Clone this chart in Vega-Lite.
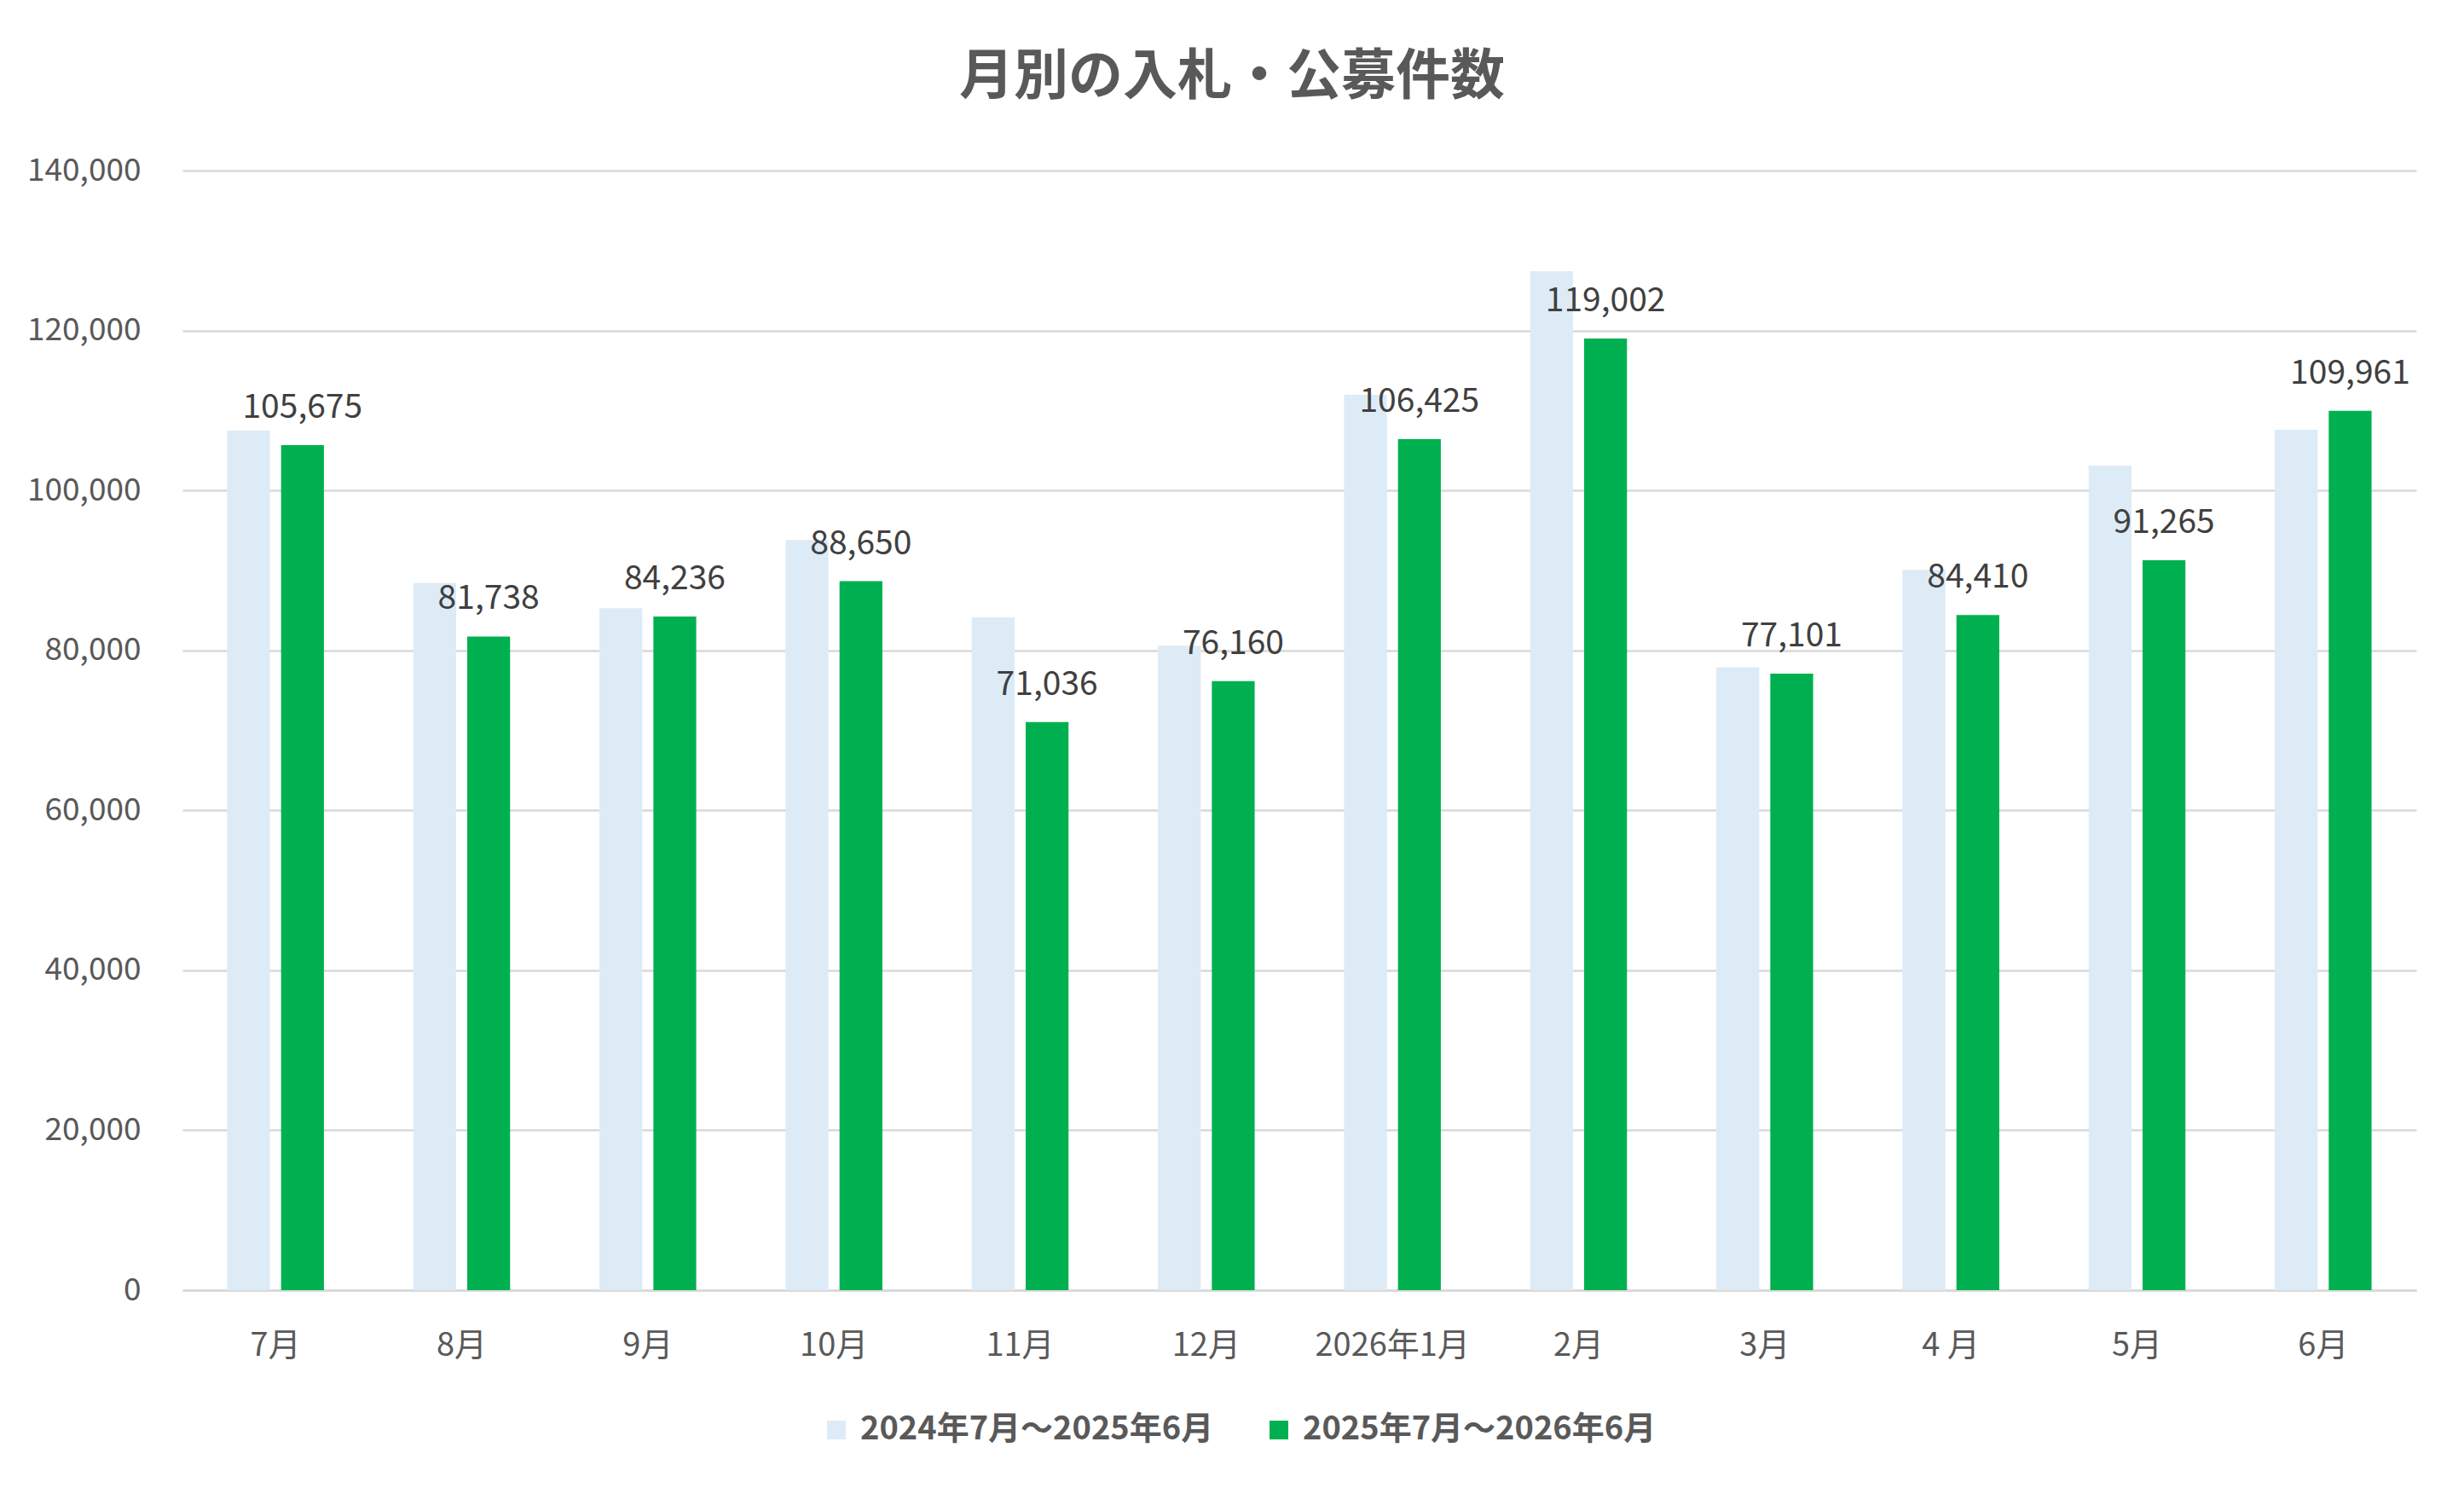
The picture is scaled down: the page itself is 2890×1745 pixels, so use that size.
{
  "$schema": "https://vega.github.io/schema/vega-lite/v6.json",
  "width": 2620,
  "height": 1313,
  "autosize": {"type": "none"},
  "padding": {"left": 214, "top": 200, "right": 56, "bottom": 232},
  "background": "white",
  "title": {
    "text": "月別の入札・公募件数",
    "font": "Noto Sans CJK JP",
    "fontSize": 64,
    "fontWeight": "bold",
    "color": "#595959",
    "anchor": "middle",
    "dx": -79,
    "offset": 58
  },
  "data": {
    "values": [
      {"月": "7月", "期間": "2024年7月～2025年6月", "件数": 107470},
      {"月": "8月", "期間": "2024年7月～2025年6月", "件数": 88410},
      {"月": "9月", "期間": "2024年7月～2025年6月", "件数": 85270},
      {"月": "10月", "期間": "2024年7月～2025年6月", "件数": 93800},
      {"月": "11月", "期間": "2024年7月～2025年6月", "件数": 84120},
      {"月": "12月", "期間": "2024年7月～2025年6月", "件数": 80570},
      {"月": "2026年1月", "期間": "2024年7月～2025年6月", "件数": 111960},
      {"月": "2月", "期間": "2024年7月～2025年6月", "件数": 127430},
      {"月": "3月", "期間": "2024年7月～2025年6月", "件数": 77880},
      {"月": "4 月", "期間": "2024年7月～2025年6月", "件数": 90080},
      {"月": "5月", "期間": "2024年7月～2025年6月", "件数": 103100},
      {"月": "6月", "期間": "2024年7月～2025年6月", "件数": 107590},
      {"月": "7月", "期間": "2025年7月～2026年6月", "件数": 105675},
      {"月": "8月", "期間": "2025年7月～2026年6月", "件数": 81738},
      {"月": "9月", "期間": "2025年7月～2026年6月", "件数": 84236},
      {"月": "10月", "期間": "2025年7月～2026年6月", "件数": 88650},
      {"月": "11月", "期間": "2025年7月～2026年6月", "件数": 71036},
      {"月": "12月", "期間": "2025年7月～2026年6月", "件数": 76160},
      {"月": "2026年1月", "期間": "2025年7月～2026年6月", "件数": 106425},
      {"月": "2月", "期間": "2025年7月～2026年6月", "件数": 119002},
      {"月": "3月", "期間": "2025年7月～2026年6月", "件数": 77101},
      {"月": "4 月", "期間": "2025年7月～2026年6月", "件数": 84410},
      {"月": "5月", "期間": "2025年7月～2026年6月", "件数": 91265},
      {"月": "6月", "期間": "2025年7月～2026年6月", "件数": 109961}
    ]
  },
  "encoding": {
    "x": {
      "field": "月",
      "type": "nominal",
      "sort": null,
      "title": null,
      "scale": {"paddingInner": 0.48, "paddingOuter": 0.24},
      "axis": {
        "labelAngle": 0,
        "labelFontSize": 38,
        "labelColor": "#595959",
        "labelPadding": 46,
        "labelLimit": 400,
        "labelOverlap": false,
        "ticks": false,
        "domainColor": "#D9D9D9",
        "domainWidth": 2.5
      }
    },
    "xOffset": {
      "field": "期間",
      "type": "nominal",
      "scale": {
        "domain": ["2024年7月～2025年6月", "2025年7月～2026年6月"],
        "paddingInner": 0.206,
        "paddingOuter": 0
      }
    },
    "y": {
      "field": "件数",
      "type": "quantitative",
      "title": null,
      "scale": {"domain": [0, 140000], "nice": false},
      "axis": {
        "values": [0, 20000, 40000, 60000, 80000, 100000, 120000, 140000],
        "format": ",d",
        "labelFontSize": 37,
        "labelColor": "#595959",
        "labelPadding": 49,
        "ticks": false,
        "domain": false,
        "gridColor": "#D9D9D9",
        "gridWidth": 2.5
      }
    }
  },
  "layer": [
    {
      "mark": {"type": "bar"},
      "encoding": {
        "color": {
          "field": "期間",
          "type": "nominal",
          "scale": {
            "domain": ["2024年7月～2025年6月", "2025年7月～2026年6月"],
            "range": ["#DDEBF7", "#00B050"]
          },
          "legend": {
            "title": null,
            "orient": "none",
            "legendX": 748,
            "legendY": 1458,
            "direction": "horizontal",
            "symbolType": "square",
            "symbolSize": 484,
            "symbolStrokeWidth": 0,
            "labelFontSize": 38,
            "labelFontWeight": "bold",
            "labelColor": "#595959",
            "labelOffset": 9,
            "labelLimit": 800,
            "columnPadding": 57
          }
        }
      }
    },
    {
      "transform": [{"filter": "datum['期間'] === '2025年7月～2026年6月'"}],
      "mark": {
        "type": "text",
        "baseline": "alphabetic",
        "dy": -32,
        "fontSize": 39,
        "color": "#404040"
      },
      "encoding": {
        "text": {"field": "件数", "type": "quantitative", "format": ","}
      }
    }
  ],
  "config": {
    "font": "Noto Sans CJK JP",
    "view": {"stroke": null}
  }
}
